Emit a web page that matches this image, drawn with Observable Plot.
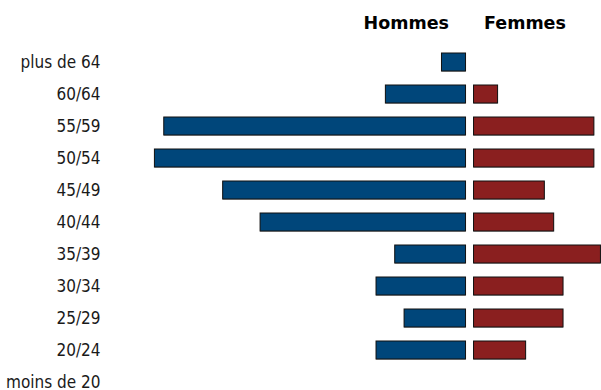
<!DOCTYPE html>
<html>
<head>
<meta charset="utf-8">
<script src="https://cdn.jsdelivr.net/npm/d3@7"></script>
<script src="https://cdn.jsdelivr.net/npm/@observablehq/plot@0.6"></script>
<style>
  html, body { margin: 0; padding: 0; background: #fff; }
  #chart svg { display: block; }
</style>
</head>
<body>
<div id="chart"></div>
<script>
const ages = ["plus de 64", "60/64", "55/59", "50/54", "45/49", "40/44", "35/39", "30/34", "25/29", "20/24", "moins de 20"];
const hommes = [3, 9, 32.7, 33.7, 26.4, 22.4, 8, 10, 7, 10, 0];
const femmes = [0, 3, 13.3, 13.3, 8, 9, 14, 10, 10, 6, 0];
const seriesLabels = ["Hommes", "Femmes"];

const rows = ages.map((age, i) => ({age, hommes: hommes[i], femmes: femmes[i]}));
const font = "'DejaVu Sans Condensed', 'DejaVu Sans', sans-serif";
const menRows = rows.filter(d => d.hommes > 0);
const womenRows = rows.filter(d => d.femmes > 0);

const chart = Plot.plot({
  width: 601,
  height: 390,
  marginLeft: 110,
  marginRight: 0,
  marginTop: 37,
  marginBottom: 0,
  style: {fontFamily: font, fontSize: "17px", color: "#1a1a1a", background: "#fff", overflow: "hidden"},
  x: {domain: [-38.45, 14.06], axis: null},
  y: {domain: ages, range: [35.8, 408.2], padding: 0.438, label: null},
  marks: [
    Plot.axisY({tickSize: 0, tickPadding: 10, fontSize: 17, fontFamily: font, label: null}),
    Plot.barX(menRows, {
      y: "age", x1: d => -d.hommes, x2: 0, dy: 1,
      insetRight: 4, fill: "#b8b8b8"
    }),
    Plot.barX(womenRows, {
      y: "age", x1: 0, x2: "femmes", dy: 1,
      insetLeft: 4, fill: "#b8b8b8"
    }),
    Plot.barX(menRows, {
      y: "age", x1: d => -d.hommes, x2: 0,
      insetRight: 4, fill: "#00467a", stroke: "#111", strokeWidth: 1
    }),
    Plot.barX(womenRows, {
      y: "age", x1: 0, x2: "femmes",
      insetLeft: 4, fill: "#8a1f1f", stroke: "#111", strokeWidth: 1
    }),
    Plot.text([seriesLabels[0]], {
      x: () => 0, frameAnchor: "top", text: d => d, textAnchor: "end",
      dx: -21, dy: -14, fontWeight: "bold", fontSize: 17.5, fill: "#000",
      fontFamily: "'DejaVu Sans', sans-serif", lineAnchor: "middle"
    }),
    Plot.text([seriesLabels[1]], {
      x: () => 0, frameAnchor: "top", text: d => d, textAnchor: "start",
      dx: 14, dy: -14, fontWeight: "bold", fontSize: 17.5, fill: "#000",
      fontFamily: "'DejaVu Sans', sans-serif", lineAnchor: "middle"
    })
  ]
});
document.getElementById("chart").appendChild(chart);
</script>
</body>
</html>
